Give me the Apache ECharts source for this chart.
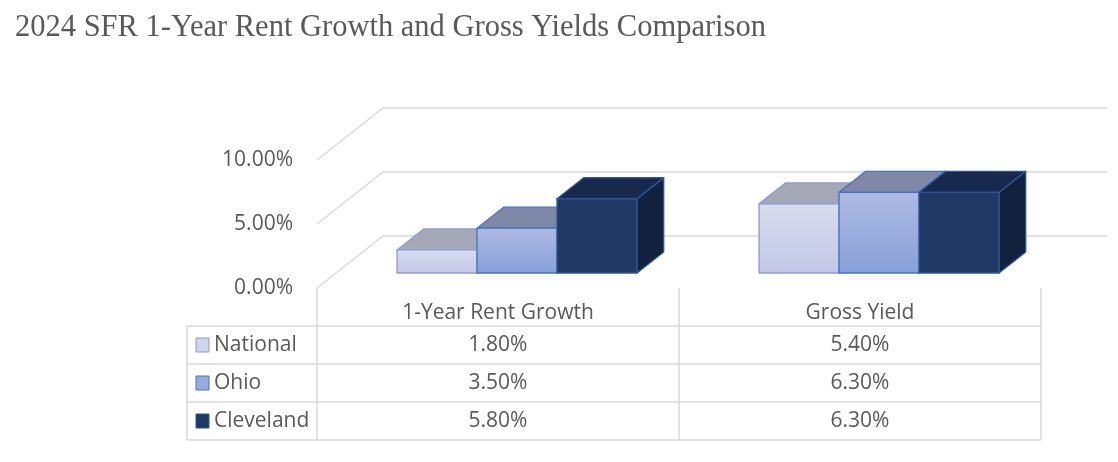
<!DOCTYPE html>
<html>
<head>
<meta charset="utf-8">
<script src="https://cdn.jsdelivr.net/npm/echarts@6/dist/echarts.min.js"></script>
<style>
  html, body { margin: 0; padding: 0; background: #fff; }
  #main { width: 1118px; height: 462px; }
</style>
</head>
<body>
<div id="main"></div>
<script>
const categories = ['1-Year Rent Growth', 'Gross Yield'];
const regions = ['National', 'Ohio', 'Cleveland'];
const national = [1.8, 5.4];
const ohio = [3.5, 6.3];
const cleveland = [5.8, 6.3];
const yTicks = [0, 5, 10];

const seriesValues = [national, ohio, cleveland];

// 3d look: how far the back wall sits from the front plane (px)
const DX = 66, DY = -52;
const BAR_FRONT = 15 / 52, BAR_BACK = 36 / 52;
const BAR_FRAC = 0.221;
const TXT = '#595959';
const GRID_LINE = '#d9d9d9';
const FONT = 'Open Sans';
const FS = 21;

const styles = [
  { top: ['#d7dcef', '#c2c8e6'], roof: '#a5a9b7', side: '#8f96b0', stroke: '#8e9ad0', key: '#cfd5ec' },
  { top: ['#aebbe2', '#889fd9'], roof: '#7f88a6', side: '#6a7396', stroke: '#4472c4', key: '#98acdd' },
  { top: ['#1f3864', '#1f3864'], roof: '#172a4e', side: '#12213d', stroke: '#2e5597', key: '#1f3864' }
];

function fmt(v) { return v.toFixed(2) + '%'; }

function wallRender(params, api) {
  const v = api.value(1);
  const band = api.size([1, 0])[0];
  const left = api.coord([0, v]);
  const right = api.coord([categories.length - 1, v]);
  const L = left[0] - band / 2, R = right[0] + band / 2, y = left[1];
  return {
    type: 'polyline',
    shape: { points: [[L, y], [L + DX, y + DY], [R + DX, y + DY]] },
    style: { stroke: GRID_LINE, lineWidth: 1.5, fill: null },
    silent: true
  };
}

function barRender(k) {
  const s = styles[k];
  return function (params, api) {
    const cat = api.value(0), val = api.value(1);
    const base = api.coord([cat, 0]);
    const top = api.coord([cat, val]);
    const band = api.size([1, 0])[0];
    const w = band * BAR_FRAC;
    const x0 = base[0] + (k - 1.5) * w + BAR_FRONT * DX;
    const x1 = x0 + w;
    const yb = base[1] + BAR_FRONT * DY;
    const yt = top[1] + BAR_FRONT * DY;
    const ddx = (BAR_BACK - BAR_FRONT) * DX, ddy = (BAR_BACK - BAR_FRONT) * DY;
    const line = { stroke: s.stroke, lineWidth: 1.3, lineJoin: 'round' };
    return {
      type: 'group',
      children: [
        {
          type: 'polygon',
          shape: { points: [[x1, yb], [x1, yt], [x1 + ddx, yt + ddy], [x1 + ddx, yb + ddy]] },
          style: Object.assign({ fill: s.side }, line)
        },
        {
          type: 'polygon',
          shape: { points: [[x0, yt], [x1, yt], [x1 + ddx, yt + ddy], [x0 + ddx, yt + ddy]] },
          style: Object.assign({ fill: s.roof }, line)
        },
        {
          type: 'rect',
          shape: { x: x0, y: yt, width: w, height: yb - yt },
          style: Object.assign({
            fill: new echarts.graphic.LinearGradient(0, 0, 0, 1, [
              { offset: 0, color: s.top[0] },
              { offset: 1, color: s.top[1] }
            ])
          }, line)
        }
      ]
    };
  };
}

const chart = echarts.init(document.getElementById('main'), null, { renderer: 'canvas' });

const series = [
  {
    type: 'custom',
    name: 'wall',
    silent: true,
    renderItem: wallRender,
    data: yTicks.map(v => [0, v]),
    z: 1
  }
];
regions.forEach((r, k) => {
  series.push({
    type: 'custom',
    name: r,
    renderItem: barRender(k),
    data: seriesValues[k].map((v, i) => [i, v]),
    z: 2 + k
  });
});

chart.setOption({
  animation: false,
  title: {
    text: '2024 SFR 1-Year Rent Growth and Gross Yields Comparison',
    left: 10,
    top: 7,
    textStyle: { fontFamily: 'Liberation Serif', fontSize: 30.5, fontWeight: 'normal', color: TXT }
  },
  grid: { left: 317, right: 77, top: 160, bottom: 174 },
  xAxis: {
    type: 'category',
    data: categories,
    axisLine: { show: false },
    axisTick: { show: true, length: 152, lineStyle: { color: GRID_LINE, width: 1.5 } },
    axisLabel: { margin: 15, color: TXT, fontFamily: FONT, fontSize: FS }
  },
  yAxis: {
    type: 'value',
    min: 0,
    max: 10,
    interval: 5,
    axisLine: { show: false },
    axisTick: { show: false },
    splitLine: { show: false },
    axisLabel: { margin: 24, color: TXT, fontFamily: FONT, fontSize: FS, formatter: fmt, padding: [4, 0, 0, 0] }
  },
  series: series
});

// data table under the plot
const rowTop = 326, rowH = 38, tableLeft = 187;
const tableRight = chart.convertToPixel({ xAxisIndex: 0 }, categories.length - 1) +
  (chart.convertToPixel({ xAxisIndex: 0 }, 1) - chart.convertToPixel({ xAxisIndex: 0 }, 0)) / 2;
const graphics = [];
for (let r = 0; r <= regions.length; r++) {
  graphics.push({
    type: 'line', silent: true,
    shape: { x1: tableLeft, y1: rowTop + r * rowH, x2: tableRight, y2: rowTop + r * rowH },
    style: { stroke: GRID_LINE, lineWidth: 1.5 }
  });
}
graphics.push({
  type: 'line', silent: true,
  shape: { x1: tableLeft, y1: rowTop, x2: tableLeft, y2: rowTop + regions.length * rowH },
  style: { stroke: GRID_LINE, lineWidth: 1.5 }
});
regions.forEach((name, r) => {
  const cy = rowTop + r * rowH + rowH / 2;
  graphics.push({
    type: 'rect', silent: true,
    shape: { x: 196, y: cy - 7, width: 13, height: 14 },
    style: { fill: styles[r].key, stroke: styles[r].stroke, lineWidth: 1 }
  });
  graphics.push({
    type: 'text', silent: true,
    style: { text: name, x: 214, y: cy, verticalAlign: 'middle',
      fill: TXT, font: FS + 'px "' + FONT + '"' }
  });
  categories.forEach((c, i) => {
    graphics.push({
      type: 'text', silent: true,
      style: {
        text: fmt(seriesValues[r][i]),
        x: chart.convertToPixel({ xAxisIndex: 0 }, i), y: cy,
        align: 'center', verticalAlign: 'middle',
        fill: TXT, font: FS + 'px "' + FONT + '"'
      }
    });
  });
});
chart.setOption({ graphic: graphics });
</script>
</body>
</html>
